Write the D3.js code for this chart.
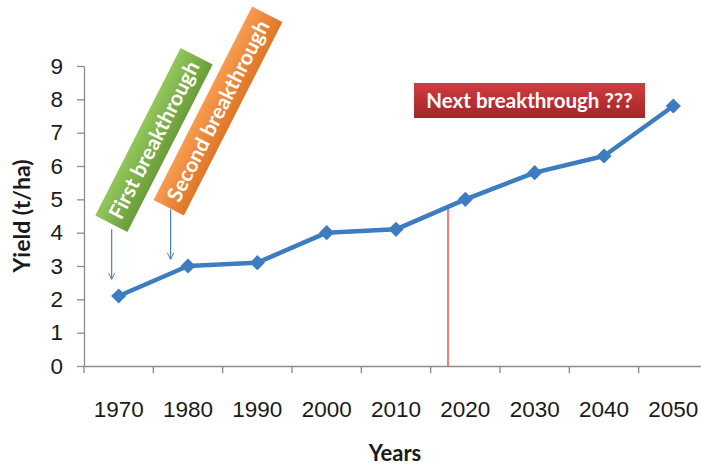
<!DOCTYPE html>
<html>
<head>
<meta charset="utf-8">
<script src="https://cdn.jsdelivr.net/npm/d3@7/dist/d3.min.js"></script>
<style>
  body { margin: 0; background: #fff; }
  svg { display: block; font-family: Lato, "Open Sans", sans-serif; }
  .axis path, .axis line { stroke: #8c8c8c; stroke-width: 1.3; }
  .axis text { fill: #1a1a1a; font-size: 22.5px; }
</style>
</head>
<body>
<div id="chart"></div>
<script>
// data
var years = ['1970', '1980', '1990', '2000', '2010', '2020', '2030', '2040', '2050'];
var yields = [2.1, 3.0, 3.1, 4.0, 4.1, 5.0, 5.8, 6.3, 7.8];
var yTicks = [0, 1, 2, 3, 4, 5, 6, 7, 8, 9];

// annotations (year, yield)
var firstBreak = {label: 'First breakthrough', year: 1970, from: 4.1, to: 2.6};
var secondBreak = {label: 'Second breakthrough', year: 1978.5, from: 4.7, to: 3.2};
var nextBreak = {label: 'Next breakthrough ???', year: 2017.5, value: 4.78};

var width = 701, height = 466;
var margin = {top: 66, right: -7, bottom: 100, left: 84};

var svg = d3.select('#chart').append('svg')
  .attr('width', width)
  .attr('height', height);

var defs = svg.append('defs');
function gradient(id, c1, c2) {
  var g = defs.append('linearGradient').attr('id', id)
    .attr('x1', 0).attr('y1', 0).attr('x2', 0).attr('y2', 1);
  g.append('stop').attr('offset', '0%').attr('stop-color', c1);
  g.append('stop').attr('offset', '100%').attr('stop-color', c2);
}
gradient('gGreen', '#93c75a', '#6a9c3c');
gradient('gOrange', '#f89c4f', '#de7629');
gradient('gRed', '#d23c3f', '#a12629');

defs.append('marker')
  .attr('id', 'arrow')
  .attr('viewBox', '0 0 10 10')
  .attr('refX', 9).attr('refY', 5)
  .attr('markerWidth', 8).attr('markerHeight', 8)
  .attr('markerUnits', 'userSpaceOnUse')
  .attr('orient', 'auto')
  .append('path')
    .attr('d', 'M1,1 L9,5 L1,9')
    .attr('fill', 'none')
    .attr('stroke', '#4a7ebb')
    .attr('stroke-width', 1.2);

// scales
var x = d3.scaleBand().domain(years)
  .range([margin.left, width - margin.right]);
var y = d3.scaleLinear().domain([0, 9])
  .range([height - margin.bottom, margin.top]);
// continuous year scale for annotations placed between categories
var xYear = d3.scaleLinear().domain([1970, 2050])
  .range([x('1970') + x.bandwidth() / 2, x('2050') + x.bandwidth() / 2]);

// x axis
var xAxis = svg.append('g')
  .attr('class', 'axis')
  .attr('transform', 'translate(0,' + y(0) + ')')
  .call(d3.axisBottom(x).tickSize(0).tickPadding(35));
xAxis.selectAll('.tick').append('line')
  .attr('x1', -x.bandwidth() / 2).attr('x2', -x.bandwidth() / 2)
  .attr('y2', 7);

// y axis
svg.append('g')
  .attr('class', 'axis')
  .attr('transform', 'translate(' + margin.left + ',0)')
  .call(d3.axisLeft(y).tickValues(yTicks).tickSize(7).tickSizeOuter(0).tickPadding(14));

// axis titles
svg.append('text')
  .attr('x', 395).attr('y', 461)
  .attr('text-anchor', 'middle')
  .attr('font-size', 22).attr('font-weight', 'bold').attr('fill', '#1a1a1a')
  .text('Years');
svg.append('text')
  .attr('transform', 'translate(30,' + (y(0) + y(9)) / 2 + ') rotate(-90)')
  .attr('text-anchor', 'middle')
  .attr('font-size', 23).attr('font-weight', 'bold').attr('fill', '#1a1a1a')
  .text('Yield (t/ha)');

// red marker line for next breakthrough
svg.append('line')
  .attr('x1', xYear(nextBreak.year)).attr('x2', xYear(nextBreak.year))
  .attr('y1', y(nextBreak.value)).attr('y2', y(0))
  .attr('stroke', '#ff2020').attr('stroke-width', 1.2);

// series line
var line = d3.line()
  .x(function(d, i) { return x(years[i]) + x.bandwidth() / 2; })
  .y(function(d) { return y(d); });

svg.append('path')
  .attr('d', line(yields))
  .attr('fill', 'none')
  .attr('stroke', '#3d7cc0')
  .attr('stroke-width', 4.5)
  .attr('stroke-linejoin', 'round');

svg.selectAll('.dot')
  .data(yields)
  .enter().append('path')
    .attr('class', 'dot')
    .attr('d', d3.symbol().type(d3.symbolSquare).size(115))
    .attr('fill', '#3d7cc0')
    .attr('transform', function(d, i) {
      return 'translate(' + (x(years[i]) + x.bandwidth() / 2) + ',' + y(d) + ') rotate(45)';
    });

// arrows
[firstBreak, secondBreak].forEach(function(a) {
  svg.append('line')
    .attr('x1', xYear(a.year) - 7).attr('x2', xYear(a.year) - 7)
    .attr('y1', y(a.from)).attr('y2', y(a.to))
    .attr('stroke', '#4a7ebb').attr('stroke-width', 1.2)
    .attr('marker-end', 'url(#arrow)');
});

// rotated label boxes
function rotatedBox(cx, cy, w, h, fill, text, size) {
  var g = svg.append('g')
    .attr('transform', 'translate(' + cx + ',' + cy + ') rotate(-63)');
  g.append('rect')
    .attr('x', -w / 2).attr('y', -h / 2)
    .attr('width', w).attr('height', h)
    .attr('fill', fill);
  g.append('text')
    .attr('text-anchor', 'middle').attr('dy', '0.36em')
    .attr('font-size', size).attr('font-weight', 'bold').attr('fill', '#fff')
    .text(text);
}
rotatedBox(154, 140, 188, 36, 'url(#gGreen)', firstBreak.label, 21);
rotatedBox(218, 111, 217, 34, 'url(#gOrange)', secondBreak.label, 21);

// next breakthrough box
var nb = svg.append('g');
nb.append('rect')
  .attr('x', 414).attr('y', 83)
  .attr('width', 231).attr('height', 35)
  .attr('fill', 'url(#gRed)');
nb.append('text')
  .attr('x', 529.5).attr('y', 100.5)
  .attr('dy', '0.36em')
  .attr('text-anchor', 'middle')
  .attr('font-size', 20.5).attr('font-weight', 'bold').attr('fill', '#fff')
  .text(nextBreak.label);
</script>
</body>
</html>
